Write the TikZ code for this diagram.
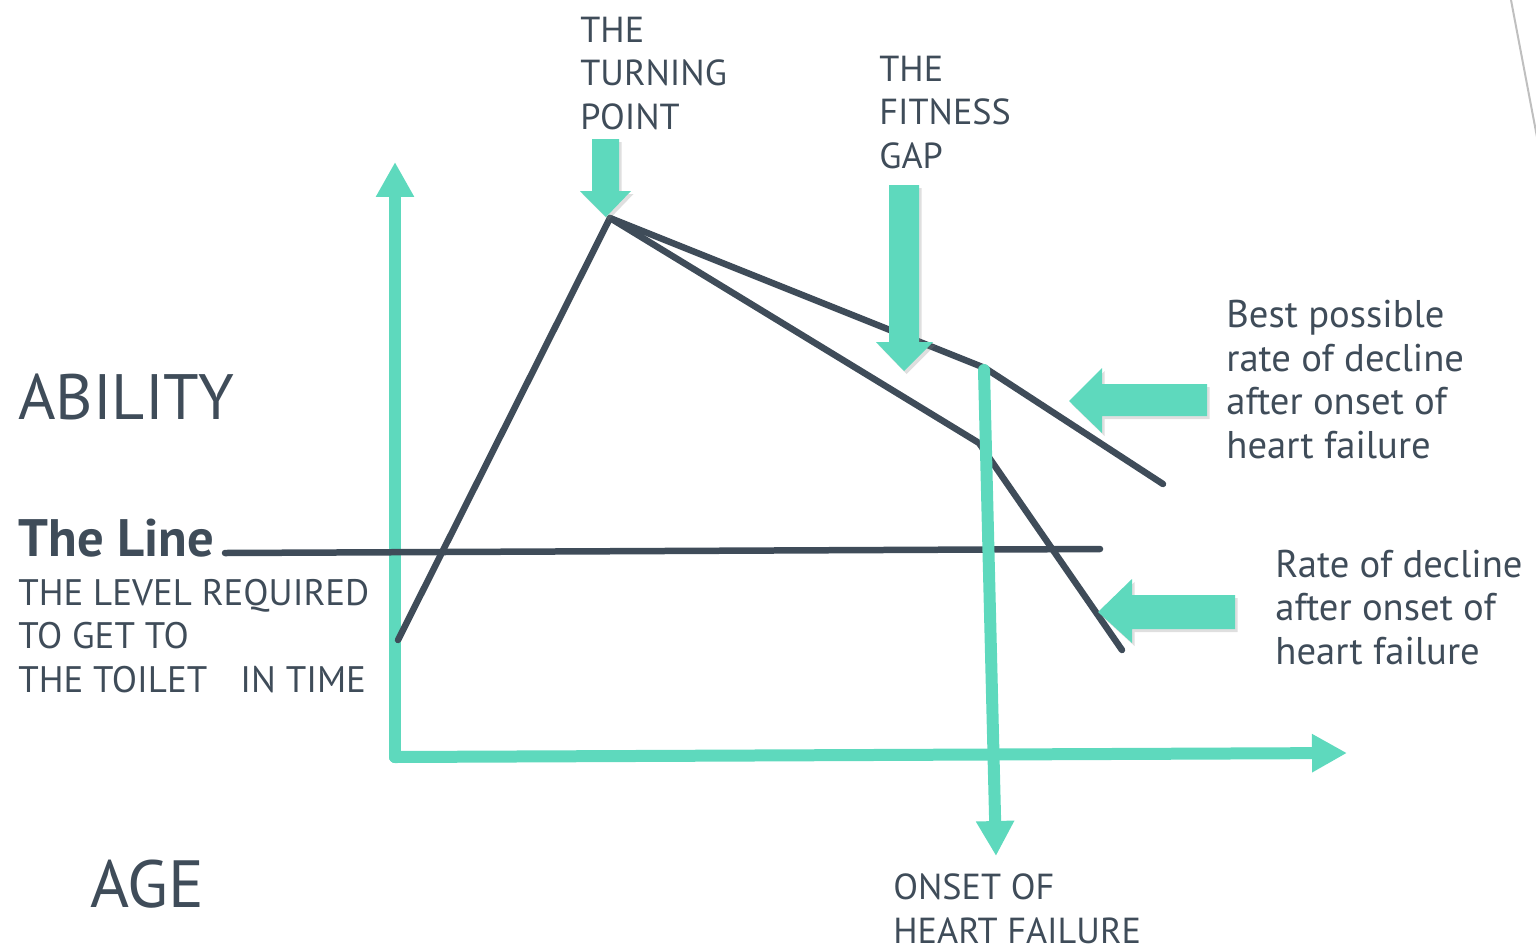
\documentclass[tikz,border=0pt]{standalone}
\usepackage{fontspec}
\setmainfont{PT Sans}
\usetikzlibrary{arrows.meta,shadows}

\definecolor{mint}{HTML}{5ED9BD}
\definecolor{slate}{HTML}{3F4C59}

\begin{document}
\begin{tikzpicture}
  [x=0.02cm,y=-0.02cm,
   axis/.style={draw=mint,line width=0.24cm,line cap=round,
     -{Triangle[length=0.7cm,width=0.72cm]}},
   curve/.style={draw=slate,line width=0.13cm,line cap=round,line join=round},
   pointer/.style={fill=mint,drop shadow={shadow xshift=0.05cm,shadow yshift=-0.06cm,opacity=0.25}},
   every node/.style={inner sep=0pt,anchor=base west,align=left,text=slate},
   txt/.style={font=\fontsize{22}{24.7}\selectfont},
   caps/.style={font=\fontsize{20.6}{24.7}\selectfont}]
  \useasboundingbox (0,0) rectangle (1536,951);

  % page edge, top right
  \draw[black!25,line width=0.04cm] (1511,0) -- (1537,137);

  % points of the graph
  \coordinate (o) at (395,757);
  \coordinate (ytip) at (395,162);
  \coordinate (xtip) at (1347,753);
  \coordinate (start) at (398,640);
  \coordinate (peak) at (610,218);
  \coordinate (gap) at (985,368);
  \coordinate (best) at (1163,484);
  \coordinate (bend) at (979,443);
  \coordinate (worst) at (1122,650);
  \coordinate (line0) at (225,553);
  \coordinate (line1) at (1100,549);
  \coordinate (onset0) at (984,370);
  \coordinate (onset1) at (996,856);

  % axes
  \draw[axis] (o) -- (ytip);
  \draw[axis] (o) -- (xtip);

  % ability over time
  \draw[curve] (start) -- (peak) -- (gap) -- (best);
  \draw[curve] (peak) -- (bend) -- (worst);
  \draw[curve] (line0) -- (line1);

  % onset marker
  \draw[axis] (onset0) -- (onset1);

  % block arrows
  \fill[pointer] (592,139) -- (619,139) -- (619,191) -- (631,191) -- (606,217)
    -- (580,191) -- (592,191) -- cycle;
  \fill[pointer] (889,185) -- (919,185) -- (919,342) -- (933,342) -- (904,371)
    -- (876,342) -- (889,342) -- cycle;
  \fill[pointer] (1207,384) -- (1207,416) -- (1102,416) -- (1102,433) -- (1069,401)
    -- (1102,368) -- (1102,384) -- cycle;
  \fill[pointer] (1235,595) -- (1235,629) -- (1132,629) -- (1132,643) -- (1098,612)
    -- (1132,579) -- (1132,595) -- cycle;

  % labels (placed by the baseline of their last line)
  \node[caps] (turning) at (580,129) {THE\\TURNING\\POINT};
  \node[caps] (fitness) at (879,168) {THE\\FITNESS\\GAP};
  \node[font=\fontsize{36.5}{40}\selectfont] (ability) at (18,419) {ABILITY};
  \node[font=\fontsize{30}{32}\selectfont\bfseries] (theline) at (18,556) {The Line};
  \node[caps,font=\fontsize{21}{24.7}\selectfont] (level) at (18,692)
    {THE LEVEL REQUIRED\\TO GET TO\\THE TOILET\hspace{0.9em}IN TIME};
  \node[font=\fontsize{38}{42}\selectfont] (age) at (90,907) {AGE};
  \node[txt] (bestrate) at (1226,458) {Best possible\\rate of decline\\after onset of\\heart failure};
  \node[txt] (rate) at (1275,664) {Rate of decline\\after onset of\\heart failure};
  \node[caps] (onset) at (893,943) {ONSET OF\\HEART FAILURE};
\end{tikzpicture}
\end{document}
